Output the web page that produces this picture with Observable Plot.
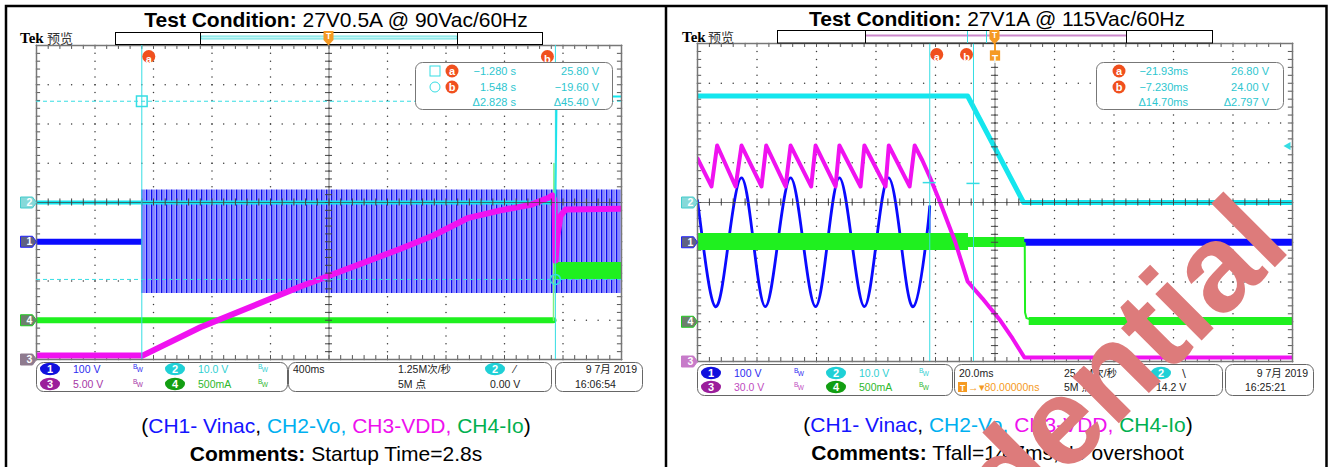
<!DOCTYPE html>
<html>
<head>
<meta charset="utf-8">
<script src="https://cdn.jsdelivr.net/npm/d3@7"></script>
<script src="https://cdn.jsdelivr.net/npm/@observablehq/plot@0.6"></script>
<style>
html,body{margin:0;padding:0;background:#fff;}
#page{position:relative;width:1332px;height:467px;overflow:hidden;background:#fff;}
</style>
</head>
<body>
<svg width="0" height="0" style="position:absolute">
  <defs>
    <pattern id="acStripe" patternUnits="userSpaceOnUse" width="5" height="10">
      <rect width="5" height="10" fill="#a4a4ff"/>
      <rect x="0" width="1.3" height="10" fill="#0a0af0"/>
      <rect x="2.6" width="0.8" height="10" fill="#5c5cff"/>
    </pattern>
  </defs>
</svg>
<div id="page"></div>
<script>
// ================= DATA =================
// ---- Left capture: start-up, 27V0.5A @ 90Vac/60Hz, 400 ms/div (time in s) ----
const leftTitle = ["Test Condition:", " 27V0.5A @ 90Vac/60Hz"];
const leftComment = ["Comments:", " Startup Time=2.8s"];
const leftTimeRange = [-2.0, 2.0];
const leftUnitsPerDiv = [100, 10, 5, 500];        // CH1 V, CH2 V, CH3 V, CH4 mA
const leftGroundDiv = [-1.0, 0.0, -4.0, -3.0];    // channel reference markers
const leftCh1Idle = [[-2.0, 0], [-1.28, 0]];                       // [s, V]
const leftCh1Envelope = [[-1.28, -132, 132], [2.0, -132, 132]];    // [s, Vmin, Vmax]
const leftCh2 = [[-2.0, 0], [1.548, 0]];
const leftCh2Rise = [[1.548, 0], [1.556, 27.0], [2.0, 27.0]];
const leftCh3 = [[-2.0, 0.5], [-1.275, 0.5], [-0.879, 4.1], [-0.195, 9.3], [0.489, 14.1], [0.714, 15.8],
  [0.947, 18.0], [1.173, 19.0], [1.378, 19.7], [1.501, 20.6], [1.528, 20.9], [1.542, 20.3], [1.549, 12.6],
  [1.562, 15.8], [1.583, 18.3], [1.617, 19.1], [2.0, 19.2]];
const leftCh4 = [[-2.0, 0], [1.535, 0]];                            // [s, mA]
const leftCh4Spike = [[1.535, 0], [1.538, 1997], [1.545, 620]];
const leftCh4Envelope = [[1.545, 519, 736], [2.0, 519, 736]];
const leftCursorT = [-1.280, 1.548];
const leftCursorV = [25.80, -19.60];
const leftReadout = [["−1.280 s", "25.80 V"], ["1.548 s", "−19.60 V"], ["Δ2.828 s", "Δ45.40 V"]];
const leftChLabels = ["100 V", "10.0 V", "5.00 V", "500mA"];
const leftHoriz = ["400ms", "1.25M次/秒", "5M 点"];
const leftTrigger = ["2", "⁄", "0.00 V"];
const leftClock = ["9 7月 2019", "16:06:54"];

// ---- Right capture: turn-off, 27V1A @ 115Vac/60Hz, 20 ms/div (time in ms) ----
const rightTitle = ["Test Condition:", " 27V1A @ 115Vac/60Hz"];
const rightComment = ["Comments:", " Tfall=14.7ms,No overshoot"];
const rightTimeRange = [-100, 100];
const rightUnitsPerDiv = [100, 10, 30, 500];
const rightGroundDiv = [-1.0, 0.0, -4.0, -3.0];
const rightCh1Sine = [[-100, 105], [-98.2, 0], [-94.0, -162], [-89.6, 0], [-85.2, 162], [-81.2, 0],
  [-77.2, -162], [-73.0, 0], [-68.7, 162], [-64.5, 0], [-60.3, -162], [-56.3, 0], [-52.3, 162],
  [-48.1, 0], [-43.9, -162], [-39.9, 0], [-35.8, 162], [-31.6, 0], [-27.4, -162], [-23.2, 0], [-21.93, 90]];
const rightCh1Cut = [[-21.93, 90], [-21.93, 0]];
const rightCh1Idle = [[-21.93, 0], [100, 0]];
const rightCh2 = [[-100, 26.8], [-9.2, 26.8], [9.6, 0], [100, 0]];
const rightCh3 = [[-100, 153.2], [-95.3, 132.1], [-93.4, 163.0], [-87.2, 132.1], [-85.2, 163.0],
  [-78.5, 132.1], [-76.9, 163.0], [-70.4, 132.1], [-68.7, 163.0], [-61.8, 132.1], [-60.3, 163.0],
  [-53.6, 132.1], [-52.3, 163.0], [-45.2, 132.1], [-43.9, 163.0], [-36.8, 132.1], [-35.7, 163.0],
  [-28.7, 132.1], [-27.0, 163.0], [-24.4, 151.7], [-21.7, 138.1], [-18.3, 119.2], [-13.3, 89.8],
  [-9.2, 60.4], [-4.2, 47.5], [1.8, 30.9], [5.9, 17.4], [9.9, 3.0], [100, 3.0]];
const rightCh4Envelope = [[-100, 896, 1110], [-8.9, 896, 1110]];    // [ms, mA min, mA max]
const rightCh4Envelope2 = [[-8.9, 934, 1060], [10.0, 934, 1060]];
const rightCh4Fall = [[10.0, 990], [10.1, 116], [10.6, 45], [12.6, 20]];
const rightCh4Idle = [[11.5, -47, 53], [100, -47, 53]];
const rightCursorT = [-21.93, -7.23];
const rightCursorMarkDiv = [0.50, 0.48];
const rightTrigLevel = 14.2;
const rightReadout = [["−21.93ms", "26.80 V"], ["−7.230ms", "24.00 V"], ["Δ14.70ms", "Δ2.797 V"]];
const rightChLabels = ["100 V", "10.0 V", "30.0 V", "500mA"];
const rightHoriz = ["20.0ms", "25.0M次/秒", "5M 点"];
const rightTrigger = ["2", "∖", "14.2 V"];
const rightTrigPos = "80.00000ns";
const rightClock = ["9 7月 2019", "16:25:21"];

const captionParts = ["(", "CH1- Vinac", ", ", "CH2-Vo,", " CH3-VDD,", " CH4-Io", ")"];
const watermark = "Confidential";

// ================= STYLE =================
const C1 = "#0a0aff", C2 = "#14e6ee", C3 = "#f012f0", C4 = "#1ff01f", CUR = "#35dde3",
      BADGE = "#f0501e", TRIG = "#f59a23";
const FONT = "'Liberation Sans', Arial, 'Noto Sans CJK SC', sans-serif";
const captionColors = ["#000", "#1414ff", "#000", "#00b0f0", "#ee10ee", "#00b050", "#000"];
const page = document.getElementById("page");

const tagSymbol = {draw(ctx, size) { const s = Math.sqrt(size / Math.PI) / 6;
  ctx.moveTo(-8 * s, -5.5 * s); ctx.lineTo(4 * s, -5.5 * s); ctx.lineTo(8 * s, 0);
  ctx.lineTo(4 * s, 5.5 * s); ctx.lineTo(-8 * s, 5.5 * s); ctx.closePath(); }};
const arrowLeft = {draw(ctx, size) { const s = Math.sqrt(size / Math.PI) / 4;
  ctx.moveTo(-4 * s, 0); ctx.lineTo(3 * s, -4 * s); ctx.lineTo(3 * s, 4 * s); ctx.closePath(); }};

function graticule(xd) {
  const step = (xd[1] - xd[0]) / 10;
  const majX = d3.range(11).map(i => xd[0] + i * step);
  const minX = d3.range(51).map(i => xd[0] + i * step / 5);
  const majY = d3.range(9).map(i => i - 4);
  const minY = d3.range(41).map(i => -4 + i * 0.2);
  const dots = [];
  majX.forEach(x => minY.forEach(y => dots.push([x, y])));
  minX.forEach(x => majY.forEach(y => dots.push([x, y])));
  const tx = step * 0.07, ty = 0.1;
  return [
    Plot.dot(dots, {x: d => d[0], y: d => d[1], r: 0.75, fill: "#3a3a3a"}),
    Plot.ruleX(minX, {y1: 4, y2: 4 - ty, stroke: "#555"}),
    Plot.ruleX(minX, {y1: -4, y2: -4 + ty, stroke: "#555"}),
    Plot.ruleY(minY, {x1: xd[0], x2: xd[0] + tx, stroke: "#555"}),
    Plot.ruleY(minY, {x1: xd[1], x2: xd[1] - tx, stroke: "#555"})
  ];
}
function centreCross(xd) {
  const step = (xd[1] - xd[0]) / 10;
  const minX = d3.range(51).map(i => xd[0] + i * step / 5);
  const minY = d3.range(41).map(i => -4 + i * 0.2);
  const tx = step * 0.06, ty = 0.09;
  return [
    Plot.ruleX([0], {stroke: "#444", strokeOpacity: 0.75}),
    Plot.ruleY([0], {stroke: "#444", strokeOpacity: 0.75}),
    Plot.ruleX(minX, {y1: -ty, y2: ty, stroke: "#444"}),
    Plot.ruleY(minY, {x1: -tx, x2: tx, stroke: "#444"}),
    Plot.frame({stroke: "#777", strokeWidth: 1.5})
  ];
}
const trace = (data, ch, gnd, per, o) =>
  Plot.line(data, {x: d => d[0], y: d => gnd[ch] + d[1] / per[ch], clip: true, ...o});
const band = (data, ch, gnd, per, o) =>
  Plot.areaY(data, {x: d => d[0], y1: d => gnd[ch] + d[1] / per[ch], y2: d => gnd[ch] + d[2] / per[ch], clip: true, ...o});
function channelTags(gnd, fills, strokes) {
  const tags = gnd.map((g, i) => ({g, n: String(i + 1), f: fills[i], s: strokes[i]}));
  return [
    Plot.dot(tags, {y: "g", frameAnchor: "left", dx: -8, symbol: tagSymbol, r: 6, fill: "f", stroke: "s", strokeWidth: 1}),
    Plot.text(tags, {y: "g", text: "n", frameAnchor: "left", dx: -10, fill: "white", fontSize: 10.5, fontWeight: "bold"})
  ];
}
function cursorBadge(t, letter, dx) {
  return [
    Plot.dot([t], {x: d => d, frameAnchor: "top", dy: 11, dx, r: 6.5, fill: BADGE}),
    Plot.text([t], {x: d => d, frameAnchor: "top", dy: 10, dx, text: () => letter, fill: "white", fontWeight: "bold", fontSize: 11})
  ];
}
function scope(xd, W, H, marks, left, top) {
  const svg = Plot.plot({
    width: W, height: H, marginTop: 0, marginRight: 0, marginBottom: 0, marginLeft: 0,
    x: {domain: xd, axis: null}, y: {domain: [-4, 4], axis: null}, color: {type: "identity"},
    style: {overflow: "visible", background: "transparent", fontFamily: FONT},
    marks
  });
  svg.style.position = "absolute"; svg.style.left = left + "px"; svg.style.top = top + "px";
  page.appendChild(svg);
}

// ---------- Left scope ----------
{
  const G = leftGroundDiv, P = leftUnitsPerDiv;
  scope(leftTimeRange, 585, 314, [
    ...graticule(leftTimeRange),
    trace(leftCh1Idle, 0, G, P, {stroke: C1, strokeWidth: 6}),
    band(leftCh1Envelope, 0, G, P, {fill: "url(#acStripe)"}),
    trace(leftCh4, 3, G, P, {stroke: C4, strokeWidth: 6}),
    trace(leftCh4Spike, 3, G, P, {stroke: "#80f080", strokeWidth: 1.5}),
    band(leftCh4Envelope, 3, G, P, {fill: C4}),
    trace(leftCh2, 1, G, P, {stroke: C2, strokeWidth: 4}),
    trace(leftCh2Rise, 1, G, P, {stroke: C2, strokeWidth: 2}),
    trace(leftCh3, 2, G, P, {stroke: C3, strokeWidth: 6, strokeLinejoin: "round"}),
    ...centreCross(leftTimeRange),
    Plot.ruleX(leftCursorT, {stroke: CUR}),
    Plot.ruleY(leftCursorV, {y: v => G[1] + v / P[1], stroke: CUR, strokeDasharray: "4,3"}),
    Plot.dot([[leftCursorT[0], leftCursorV[0]]], {x: d => d[0], y: d => G[1] + d[1] / P[1], symbol: "square", r: 6, stroke: CUR, fill: "none"}),
    Plot.dot([[leftCursorT[1], leftCursorV[1]]], {x: d => d[0], y: d => G[1] + d[1] / P[1], symbol: "circle", r: 5, stroke: CUR, fill: "none"}),
    ...cursorBadge(leftCursorT[0], "a", 7),
    ...cursorBadge(leftCursorT[1], "b", -8),
    ...channelTags(G, ["#5f6283", "#86d9d9", "#8e7a8e", "#6d7f6d"], ["#2020ff", "#44cccc", "#8e7a8e", "#22cc22"])
  ], 36, 45);
}
// ---------- Right scope ----------
{
  const G = rightGroundDiv, P = rightUnitsPerDiv;
  scope(rightTimeRange, 595, 318, [
    ...graticule(rightTimeRange),
    trace(rightCh1Sine, 0, G, P, {stroke: C1, strokeWidth: 2.8, curve: "natural"}),
    trace(rightCh1Cut, 0, G, P, {stroke: C1, strokeWidth: 1.5}),
    trace(rightCh1Idle, 0, G, P, {stroke: C1, strokeWidth: 7}),
    band(rightCh4Envelope, 3, G, P, {fill: C4}),
    band(rightCh4Envelope2, 3, G, P, {fill: C4}),
    trace(rightCh4Fall, 3, G, P, {stroke: C4, strokeWidth: 2}),
    band(rightCh4Idle, 3, G, P, {fill: C4}),
    trace(rightCh2, 1, G, P, {stroke: C2, strokeWidth: 5}),
    trace(rightCh3, 2, G, P, {stroke: C3, strokeWidth: 4, strokeLinejoin: "round"}),
    ...centreCross(rightTimeRange),
    Plot.ruleX(rightCursorT, {stroke: CUR}),
    Plot.ruleY(rightCursorT.map((t, i) => [t, rightCursorMarkDiv[i]]), {y: d => d[1], x1: d => d[0] - 2.2, x2: d => d[0] + 2.2, stroke: CUR, strokeWidth: 1.5}),
    Plot.dot([rightTrigLevel], {y: v => G[1] + v / P[1], frameAnchor: "right", dx: -5, symbol: arrowLeft, r: 4, fill: CUR}),
    ...cursorBadge(rightCursorT[0], "a", 7),
    ...cursorBadge(rightCursorT[1], "b", -7),
    Plot.ruleX([0], {y1: 4, y2: 3.8, stroke: TRIG, strokeWidth: 2}),
    Plot.dot([0], {x: d => d, frameAnchor: "top", dy: 12, symbol: "square", r: 5.8, fill: TRIG}),
    Plot.text([0], {x: d => d, frameAnchor: "top", dy: 12, text: () => "T", fill: "white", fontWeight: "bold", fontSize: 10}),
    ...channelTags(G, ["#5f6283", "#86d9d9", "#c77bc9", "#6d7f6d"], ["#2020ff", "#44cccc", "#c77bc9", "#22cc22"])
  ], 697, 43);
}

// ---------- Overlay: frames, titles, status bars, captions ----------
function txt(x, y, s, o = {}) {
  return `<text x="${x}" y="${y}" font-family="${o.ff || FONT}" font-size="${o.fs || 11}" fill="${o.fill || '#000'}" text-anchor="${o.anchor || 'start'}" font-weight="${o.fw || 'normal'}" style="white-space:pre">${s}</text>`;
}
function boldLead(cx, y, parts) {
  return `<text x="${cx}" y="${y}" text-anchor="middle" font-family="${FONT}" font-size="21" style="white-space:pre"><tspan font-weight="bold">${parts[0]}</tspan><tspan>${parts[1]}</tspan></text>`;
}
function caption(cx, y) {
  return `<text x="${cx}" y="${y}" text-anchor="middle" font-family="${FONT}" font-size="21" style="white-space:pre">` +
    captionParts.map((p, i) => `<tspan fill="${captionColors[i]}">${p}</tspan>`).join("") + `</text>`;
}
function trigMarker(x, y0) {
  return `<path d="M${x - 5},${y0} h10 v9 l-5,5.5 l-5,-5.5 z" fill="${TRIG}"/>` +
    txt(x, y0 + 8, "T", {anchor: "middle", fill: "#fff", fw: "bold", fs: 8.5});
}
function badge(x, y, l) {
  return `<circle cx="${x}" cy="${y}" r="6.5" fill="${BADGE}"/>` + txt(x, y + 3.5, l, {anchor: "middle", fill: "#fff", fw: "bold", fs: 11});
}
function readout(x0, y0, w, rows, tEnd, vEnd, bx, symbols) {
  let s = `<rect x="${x0 + 0.5}" y="${y0 + 0.5}" width="${w}" height="47" rx="7" fill="#fff" stroke="#777"/>`;
  const ys = [y0 + 9, y0 + 25, y0 + 40];
  if (symbols) {
    s += `<rect x="${bx - 22}" y="${ys[0] - 5}" width="10" height="10" fill="none" stroke="${CUR}"/>`;
    s += `<circle cx="${bx - 17}" cy="${ys[1]}" r="5" fill="none" stroke="${CUR}"/>`;
  }
  s += badge(bx, ys[0], "a") + badge(bx, ys[1], "b");
  rows.forEach((r, i) => {
    s += txt(tEnd, ys[i] + 4, r[0], {anchor: "end", fill: "#2ec6cf"});
    s += txt(vEnd, ys[i] + 4, r[1], {anchor: "end", fill: "#2ec6cf"});
  });
  return s;
}
function statusBar(c) {
  const box = (b) => `<rect x="${b[0] + 0.5}" y="${c.top + 0.5}" width="${b[1] - b[0]}" height="${c.bottom - c.top}" rx="7" fill="#fff" stroke="#666"/>`;
  let s = box(c.b1) + box(c.b2) + box(c.b3);
  const slots = [[c.b1[0] + 14, c.r1], [c.b1[0] + 139, c.r1], [c.b1[0] + 14, c.r2], [c.b1[0] + 139, c.r2]];
  slots.forEach(([ex, by], i) => {
    s += `<ellipse cx="${ex}" cy="${by - 4}" rx="10" ry="6.2" fill="${c.chFill[i]}"/>`;
    s += txt(ex, by, String(i + 1), {anchor: "middle", fill: "#fff", fw: "bold", fs: 11});
    s += txt(ex + 23, by, c.labels[i], {fill: c.chText[i], fs: 10.5});
    s += `<text x="${ex + 83}" y="${by - 4}" font-family="${FONT}" font-size="6.5" fill="${c.chText[i]}">B<tspan dx="-0.5" dy="3">W</tspan></text>`;
  });
  s += txt(c.b2[0] + 5, c.r1, c.horiz[0], {fs: 10.5, fill: "#222"});
  s += txt(c.b2[0] + 110, c.r1, c.horiz[1], {fs: 10.5, fill: "#222"});
  s += txt(c.b2[0] + 110, c.r2, c.horiz[2], {fs: 10.5, fill: "#222"});
  s += `<ellipse cx="${c.b2[0] + 207}" cy="${c.r1 - 4}" rx="10" ry="6.2" fill="#1fd0d6"/>`;
  s += txt(c.b2[0] + 207, c.r1, c.trig[0], {anchor: "middle", fill: "#fff", fw: "bold", fs: 11});
  s += txt(c.b2[0] + 226, c.r1, c.trig[1], {fs: 11, fill: "#222"});
  s += txt(c.b2[0] + 202, c.r2, c.trig[2], {fs: 10.5, fill: "#222"});
  if (c.trigPos) {
    const x = c.b2[0] + 4;
    s += `<rect x="${x}" y="${c.r2 - 9}" width="9" height="10" fill="${TRIG}"/>` + txt(x + 4.5, c.r2 - 0.5, "T", {anchor: "middle", fill: "#fff", fw: "bold", fs: 8.5});
    s += txt(x + 10, c.r2, "→▾" + c.trigPos, {fs: 10.5, fill: TRIG});
  }
  s += txt(c.b3[1] - 5, c.r1, c.clock[0], {anchor: "end", fs: 10.5, fill: "#222"});
  s += txt(c.b3[0] + 20, c.r2, c.clock[1], {fs: 10.5, fill: "#222"});
  return s;
}

let o = "";
o += `<path d="M6,480 V6 H1326.5 V480 M666,6 V480" fill="none" stroke="#000" stroke-width="2.5"/>`;
o += boldLead(336, 27, leftTitle) + boldLead(997, 26, rightTitle);
o += txt(20, 43, "Tek", {ff: "'Liberation Serif', serif", fw: "bold", fs: 15}) + txt(47, 43, "预览", {ff: "'Noto Sans CJK SC'", fs: 13, fill: "#333"});
o += txt(682, 42, "Tek", {ff: "'Liberation Serif', serif", fw: "bold", fs: 15}) + txt(708, 42, "预览", {ff: "'Noto Sans CJK SC'", fs: 13, fill: "#333"});
// record bars
o += `<rect x="115.5" y="32.5" width="427" height="12" fill="#fff" stroke="#000"/>`;
o += `<rect x="201" y="36" width="256" height="3" fill="#c4f6f6" stroke="#3cd8d8" stroke-width="0.7"/>`;
o += `<path d="M200.5,32 V44 M457.5,32 V44" stroke="#000"/>` + trigMarker(328.5, 31);
o += `<rect x="777.5" y="30.5" width="435" height="12.5" fill="#fff" stroke="#000"/>`;
o += `<path d="M866,35.5 H1126" stroke="#cc88cc" stroke-width="2"/>`;
o += `<path d="M865.5,30 V43 M1126.5,30 V43" stroke="#000"/><path d="M967.5,31 V43 M986.5,31 V43" stroke="${CUR}"/>` + trigMarker(994.5, 30);
// cursor readouts
o += readout(415, 62, 197, leftReadout, 516, 599, 452, true);
o += readout(1096, 62, 187, rightReadout, 1188, 1269, 1119, false);
// status bars
o += statusBar({b1: [36, 287], b2: [288, 551], b3: [555, 642], top: 362, bottom: 391, r1: 373, r2: 388,
  labels: leftChLabels, chText: ["#2b2bf0", "#2fcfd2", "#a635a6", "#2db82d"], chFill: ["#1010dd", "#1fd0d6", "#9b1e9b", "#129e12"],
  horiz: leftHoriz, trig: leftTrigger, clock: leftClock});
o += statusBar({b1: [697, 952], b2: [954, 1222], b3: [1225, 1313], top: 364, bottom: 395, r1: 377, r2: 391,
  labels: rightChLabels, chText: ["#2b2bf0", "#2fcfd2", "#c04cc0", "#2db82d"], chFill: ["#1010dd", "#1fd0d6", "#9b1e9b", "#129e12"],
  horiz: rightHoriz, trig: rightTrigger, clock: rightClock, trigPos: rightTrigPos});
// captions
o += caption(336, 433) + boldLead(336, 461, leftComment);
o += caption(998, 432) + boldLead(997.5, 460, rightComment);
// watermark
o += `<text transform="translate(1293,249) rotate(-45)" text-anchor="end" font-family="${FONT}" font-weight="bold" font-size="124" fill="#dd7b7b">${watermark}</text>`;

const overlay = document.createElementNS("http://www.w3.org/2000/svg", "svg");
overlay.setAttribute("width", 1332); overlay.setAttribute("height", 467);
overlay.style.position = "absolute"; overlay.style.left = "0px"; overlay.style.top = "0px";
overlay.innerHTML = o;
page.appendChild(overlay);
</script>
</body>
</html>
